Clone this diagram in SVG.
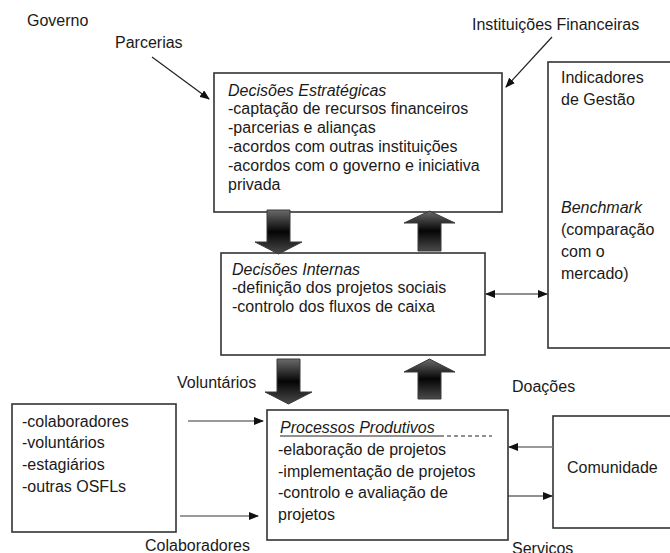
<svg xmlns="http://www.w3.org/2000/svg" width="670" height="553" viewBox="0 0 670 553">
<style>
text{font-family:"Liberation Sans",Arial,sans-serif;font-size:16px;fill:#1a1a1a}
.it{font-style:italic}
.box{fill:#fff;stroke:#333;stroke-width:1.6}
.ln{stroke:#222;stroke-width:1.2;fill:none}
.gl{stroke:#777;stroke-width:1.6;fill:none}
.big{fill:url(#g);stroke:#3a3a3a;stroke-width:1}
</style>
<defs>
<linearGradient id="g" x1="0" y1="0" x2="0" y2="1">
<stop offset="0" stop-color="#6a6a6a"/>
<stop offset="0.5" stop-color="#050505"/>
<stop offset="1" stop-color="#4a4a4a"/>
</linearGradient>
<marker id="ah" markerWidth="10" markerHeight="8" refX="9" refY="4" orient="auto" markerUnits="userSpaceOnUse">
<path d="M0,0 L10,4 L0,8 Z" fill="#111"/>
</marker>
<marker id="as" markerWidth="10" markerHeight="8" refX="1" refY="4" orient="auto" markerUnits="userSpaceOnUse">
<path d="M10,0 L0,4 L10,8 Z" fill="#111"/>
</marker>
</defs>

<g id="labels">
<text x="27" y="26">Governo</text>
<text x="115" y="48">Parcerias</text>
<text x="472" y="30">Instituições Financeiras</text>
<text x="177" y="388">Voluntários</text>
<text x="512" y="392">Doações</text>
<text x="145" y="551">Colaboradores</text>
<text x="512" y="554">Serviços</text>
</g>

<g id="estrategicas">
<rect class="box" x="214" y="73" width="288" height="139"/>
<text class="it" x="228" y="96">Decisões Estratégicas</text>
<text x="228" y="114">-captação de recursos financeiros</text>
<text x="228" y="133">-parcerias e alianças</text>
<text x="228" y="152">-acordos com outras instituições</text>
<text x="228" y="171">-acordos com o governo e iniciativa</text>
<text x="228" y="190">privada</text>
</g>

<g id="indicadores">
<rect class="box" x="548" y="62" width="130" height="286"/>
<text x="561" y="83">Indicadores</text>
<text x="561" y="105">de Gestão</text>
<text class="it" x="561" y="213">Benchmark</text>
<text x="561" y="235">(comparação</text>
<text x="561" y="257">com o</text>
<text x="561" y="279">mercado)</text>
</g>

<g id="internas">
<rect class="box" x="221" y="253" width="264" height="102"/>
<text class="it" x="232" y="275">Decisões Internas</text>
<text x="232" y="293">-definição dos projetos sociais</text>
<text x="232" y="312">-controlo dos fluxos de caixa</text>
</g>

<g id="recursos">
<rect class="box" x="12" y="404" width="164" height="128"/>
<text x="22" y="427">-colaboradores</text>
<text x="22" y="448">-voluntários</text>
<text x="22" y="470">-estagiários</text>
<text x="22" y="492">-outras OSFLs</text>
</g>

<g id="processos">
<rect class="box" x="267" y="410" width="241" height="130"/>
<text class="it" x="280" y="433">Processos Produtivos</text>
<line x1="280" y1="436" x2="440" y2="436" stroke="#222" stroke-width="1"/>
<line x1="440" y1="436" x2="492" y2="436" stroke="#222" stroke-width="1.2" stroke-dasharray="4,3"/>
<text x="278" y="455">-elaboração de projetos</text>
<text x="278" y="477">-implementação de projetos</text>
<text x="278" y="498">-controlo e avaliação de</text>
<text x="278" y="520">projetos</text>
</g>

<g id="comunidade">
<rect class="box" x="553" y="416" width="130" height="112"/>
<text x="567" y="473">Comunidade</text>
</g>

<g id="connectors">
<line class="ln" x1="152" y1="57" x2="209" y2="99" marker-end="url(#ah)"/>
<line class="ln" x1="552" y1="37" x2="506" y2="87" marker-end="url(#ah)"/>
<polygon class="big" points="267,210 290,210 290,242 302,242 278.5,254 255,242 267,242"/>
<polygon class="big" points="429.5,211 455,223 441,223 441,251 418,251 418,223 404,223"/>
<polygon class="big" points="277,359 300,359 300,392 312,392 288.5,404 265,392 277,392"/>
<polygon class="big" points="429.5,359 455,372 441,372 441,399 418,399 418,372 404,372"/>
<line class="ln" x1="486" y1="294" x2="547" y2="294" marker-start="url(#as)" marker-end="url(#ah)"/>
<line class="gl" x1="188" y1="421" x2="263" y2="421" marker-end="url(#ah)"/>
<line class="gl" x1="180" y1="516" x2="258" y2="516" marker-end="url(#ah)"/>
<line class="gl" x1="553" y1="447" x2="509" y2="447" marker-end="url(#ah)"/>
<line class="ln" x1="508" y1="496" x2="552" y2="496" marker-end="url(#ah)"/>
</g>
</svg>
